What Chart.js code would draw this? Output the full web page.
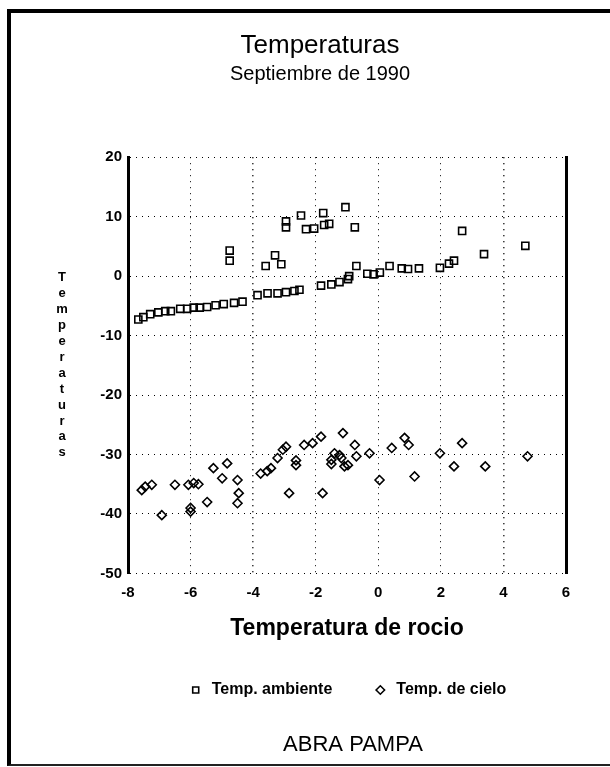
<!DOCTYPE html>
<html>
<head>
<meta charset="utf-8">
<script src="https://cdn.jsdelivr.net/npm/chart.js@4"></script>
<style>
  html, body { margin: 0; padding: 0; background: #fff; }
  #frame {
    position: absolute; left: 7px; top: 9px; width: 610px; height: 757px;
    box-sizing: border-box;
    border-left: 4px solid #000; border-top: 4px solid #000; border-bottom: 2px solid #222;
  }
  #wrap { position: absolute; left: 0; top: 0; width: 610px; height: 767px; }
</style>
</head>
<body>
<div id="frame"></div>
<div id="wrap"><canvas id="tempChart" width="610" height="767"></canvas></div>
<script>
// Abra Pampa, septiembre de 1990: temperatura vs punto de rocio
const ambienteX = [-7.67, -7.51, -7.29, -7.03, -6.81, -6.63, -6.33, -6.11, -5.9, -5.71, -5.47, -5.2, -4.94, -4.61, -4.34,
  -3.86, -3.54, -3.22, -2.95, -2.68, -2.52,
  -1.83, -1.5, -1.24, -0.97, -0.93,
  -0.7, -0.35, -0.15, 0.05, 0.36, 0.75, 0.95, 1.3, 1.97, 2.26, 2.42, 2.68, 3.38, 4.7,
  -4.75, -4.75, -3.6, -3.3, -3.1,
  -2.95, -2.95, -2.47, -2.31, -2.05, -1.76, -1.73, -1.57, -1.05, -0.75];
const ambienteY = [-7.3, -6.9, -6.4, -6.1, -5.9, -5.9, -5.5, -5.5, -5.3, -5.3, -5.2, -4.9, -4.7, -4.5, -4.3,
  -3.2, -2.9, -2.9, -2.7, -2.5, -2.3,
  -1.6, -1.4, -1.0, -0.5, 0.0,
  1.7, 0.4, 0.3, 0.6, 1.7, 1.3, 1.2, 1.3, 1.4, 2.1, 2.6, 7.6, 3.7, 5.1,
  2.6, 4.3, 1.7, 3.5, 2.0,
  8.2, 9.2, 10.2, 7.9, 8.0, 10.6, 8.6, 8.8, 11.6, 8.2];

const cieloX = [-7.56, -7.45, -7.24, -6.92, -6.5, -6.07, -6.0, -6.0, -5.9, -5.75, -5.47, -5.27, -4.99, -4.83, -4.5, -4.5, -4.46,
  -3.76, -3.55, -3.43, -3.22, -3.05, -2.95, -2.85, -2.63, -2.63, -2.37, -2.1, -1.83, -1.78,
  -1.5, -1.5, -1.4, -1.24, -1.18, -1.13, -1.08, -0.97, -0.75, -0.7, -0.28, 0.04, 0.43, 0.84, 0.97, 1.16,
  1.97, 2.42, 2.68, 3.42, 4.77];
const cieloY = [-36.0, -35.4, -35.1, -40.2, -35.1, -35.1, -39.0, -39.6, -34.8, -35.0, -38.0, -32.3, -34.0, -31.5, -34.3, -38.2, -36.5,
  -33.2, -32.8, -32.3, -30.6, -29.2, -28.7, -36.5, -31.8, -31.0, -28.4, -28.1, -27.0, -36.5,
  -30.9, -31.6, -29.8, -30.1, -30.6, -26.4, -32.0, -31.8, -28.4, -30.3, -29.8, -34.3, -28.9, -27.2, -28.4, -33.7,
  -29.8, -32.0, -28.1, -32.0, -30.3];

const xTicks = [-8, -6, -4, -2, 0, 2, 4, 6];
const yTicks = [20, 10, 0, -10, -20, -30, -40, -50];

const toPoints = (xs, ys) => xs.map((x, i) => ({ x: x, y: ys[i] }));

Chart.defaults.font.family = '"Liberation Sans", Arial, Helvetica, sans-serif';
Chart.defaults.color = '#000';

// titulo vertical letra por letra y rotulo inferior
const extraText = {
  id: 'extraText',
  afterDraw(chart) {
    const ctx = chart.ctx;
    const area = chart.chartArea;
    const word = 'Temperaturas';
    const step = 15.9;
    const midY = (area.top + area.bottom) / 2;
    const startY = midY - step * (word.length - 1) / 2;
    ctx.save();
    ctx.fillStyle = '#000';
    ctx.textAlign = 'center';
    ctx.textBaseline = 'middle';
    ctx.font = 'bold 13px "Liberation Sans", Arial, sans-serif';
    for (let i = 0; i < word.length; i++) {
      ctx.fillText(word[i], area.left - 66, startY + i * step);
    }
    ctx.font = '22px "Liberation Sans", Arial, sans-serif';
    ctx.fillText('ABRA PAMPA', (area.left + area.right) / 2 + 6, area.bottom + 172);
    ctx.restore();
  }
};

const ctx = document.getElementById('tempChart').getContext('2d');
const tempChart = new Chart(ctx, {
  type: 'scatter',
  data: {
    datasets: [{
      label: 'Temp. ambiente',
      data: toPoints(ambienteX, ambienteY),
      pointStyle: 'rect',
      pointRadius: 5,
      borderColor: '#000',
      backgroundColor: 'rgba(0,0,0,0)',
      borderWidth: 1.6
    }, {
      label: 'Temp. de cielo',
      data: toPoints(cieloX, cieloY),
      pointStyle: 'rectRot',
      pointRadius: 4.5,
      borderColor: '#000',
      backgroundColor: 'rgba(0,0,0,0)',
      borderWidth: 1.6
    }]
  },
  options: {
    responsive: false,
    animation: false,
    layout: { padding: { left: 74, right: 44, top: 30, bottom: 59 } },
    plugins: {
      title: {
        display: true,
        text: 'Temperaturas',
        font: { size: 26, weight: 'normal' },
        padding: { top: 0, bottom: 0 }
      },
      subtitle: {
        display: true,
        text: 'Septiembre de 1990',
        color: '#000',
        font: { size: 20, weight: 'normal' },
        padding: { top: 1, bottom: 71 }
      },
      legend: {
        position: 'bottom',
        fullSize: false,
        labels: {
          usePointStyle: true,
          boxWidth: 16,
          boxHeight: 6,
          padding: 40,
          font: { size: 16, weight: 'bold' },
          color: '#000'
        }
      },
      tooltip: { enabled: false }
    },
    scales: {
      x: {
        type: 'linear',
        min: -8,
        max: 6,
        afterBuildTicks: s => { s.ticks = xTicks.map(v => ({ value: v })); },
        ticks: { padding: 10, font: { size: 15, weight: 'bold' }, color: '#000' },
        grid: {
          color: '#000',
          drawTicks: false,
          lineWidth: c => (c.tick && (c.tick.value === -4 || c.tick.value === 4)) ? 1.6 : 1
        },
        border: { display: false, dash: [1, 5] },
        title: {
          display: true,
          text: 'Temperatura de rocio',
          color: '#000',
          font: { size: 23, weight: 'bold' },
          padding: { top: 3, bottom: 0 }
        }
      },
      y: {
        type: 'linear',
        min: -50,
        max: 20,
        afterBuildTicks: s => { s.ticks = yTicks.map(v => ({ value: v })); },
        afterFit: s => { s.width = 54; },
        ticks: { padding: 6, font: { size: 15, weight: 'bold' }, color: '#000' },
        grid: { color: '#000', drawTicks: false, lineWidth: 1 },
        border: { display: true, color: '#000', width: 3, dash: [1, 5] }
      },
      y2: {
        type: 'linear',
        position: 'right',
        min: -50,
        max: 20,
        afterFit: s => { s.width = 0; },
        ticks: { display: false },
        grid: { display: false, drawTicks: false },
        border: { display: true, color: '#000', width: 3 }
      }
    }
  },
  plugins: [extraText]
});
</script>
</body>
</html>
